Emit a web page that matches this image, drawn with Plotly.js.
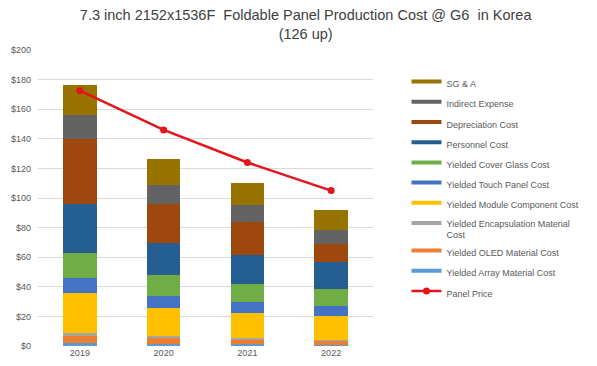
<!DOCTYPE html>
<html>
<head>
<meta charset="utf-8">
<script src="https://cdn.plot.ly/plotly-3.0.1.min.js"></script>
<style>html,body{margin:0;padding:0;background:#fff}#chart{width:597px;height:366px}</style>
</head>
<body>
<div id="chart"></div>
<script>
var years = ['2019', '2020', '2021', '2022'];

var arrayMaterial   = [2.2, 1.5, 1.2, 1.0];
var oledMaterial    = [4.7, 3.9, 3.0, 2.3];
var encapsulation   = [1.6, 1.3, 1.3, 1.0];
var moduleComponent = [27.2, 19.1, 17.0, 15.9];
var touchPanel      = [10.1, 8.3, 7.1, 6.8];
var coverGlass      = [16.8, 14.2, 12.6, 11.6];
var personnel       = [33.5, 21.3, 19.3, 18.2];
var depreciation    = [43.8, 26.3, 22.5, 12.4];
var indirectExpense = [15.9, 13.0, 11.0, 9.4];
var sga             = [20.6, 17.5, 15.4, 13.0];
var panelPrice      = [172.5, 146, 124, 105];

var seriesNames = ['Yielded Array Material Cost', 'Yielded OLED Material Cost',
  'Yielded Encapsulation Material<br>Cost', 'Yielded Module Component Cost',
  'Yielded Touch Panel Cost', 'Yielded Cover Glass Cost', 'Personnel Cost',
  'Depreciation Cost', 'Indirect Expense', 'SG & A'];
var seriesValues = [arrayMaterial, oledMaterial, encapsulation, moduleComponent,
  touchPanel, coverGlass, personnel, depreciation, indirectExpense, sga];
var seriesColors = ['#5B9BD5', '#ED7D31', '#A5A5A5', '#FFC000', '#4472C4',
  '#70AD47', '#255E91', '#9E480E', '#636363', '#997300'];

var n = seriesNames.length;
var traces = [];
for (var i = 0; i < n; i++) {
  traces.push({
    type: 'bar', name: seriesNames[i], x: years, y: seriesValues[i],
    marker: {color: seriesColors[i], line: {width: 0}},
    showlegend: false, legendgroup: 'g' + i
  });
  // legend-only entry drawn as a short thick line, like the reference legend
  traces.push({
    type: 'scatter', mode: 'lines', name: seriesNames[i], x: [null], y: [null],
    line: {color: seriesColors[i], width: 4}, legendgroup: 'g' + i,
    legendrank: n - i, hoverinfo: 'skip'
  });
}
traces.push({
  type: 'scatter', mode: 'lines+markers', name: 'Panel Price',
  x: years, y: panelPrice, legendgroup: 'pp', legendrank: n + 1,
  line: {color: '#E3141B', width: 2.5},
  marker: {color: '#E3141B', size: 7},
  hoverinfo: 'y'
});

var layout = {
  width: 597, height: 366,
  margin: {l: 38, r: 195, t: 50, b: 19.5},
  paper_bgcolor: '#ffffff', plot_bgcolor: '#ffffff',
  font: {family: 'Liberation Sans, Arial, sans-serif', color: '#595959', size: 9},
  title: {
    text: '7.3 inch 2152x1536F&nbsp; Foldable Panel Production Cost @ G6&nbsp; in Korea<br>(126 up)',
    x: 0.512, xanchor: 'center', y: 0.944, yanchor: 'top',
    font: {size: 14.5, color: '#404040', family: 'Liberation Sans, Arial, sans-serif'}
  },
  barmode: 'stack', bargap: 0.6,
  showlegend: true,
  legend: {
    x: 1.1, xanchor: 'left', y: 0.935, yanchor: 'top',
    traceorder: 'grouped', tracegroupgap: 1.2, valign: 'top',
    font: {size: 9, color: '#595959'}, itemwidth: 30
  },
  xaxis: {
    type: 'category', showgrid: false, zeroline: false, showline: false,
    ticks: '', tickfont: {size: 9, color: '#595959'}
  },
  yaxis: {
    range: [0, 200], dtick: 20, tickprefix: '$', showgrid: true,
    gridcolor: '#D9D9D9', gridwidth: 1, zeroline: false, showline: false,
    ticks: '', ticklabelstandoff: 6, tickfont: {size: 9, color: '#595959'}
  }
};

Plotly.newPlot('chart', traces, layout, {displayModeBar: false, staticPlot: true});
</script>
</body>
</html>
